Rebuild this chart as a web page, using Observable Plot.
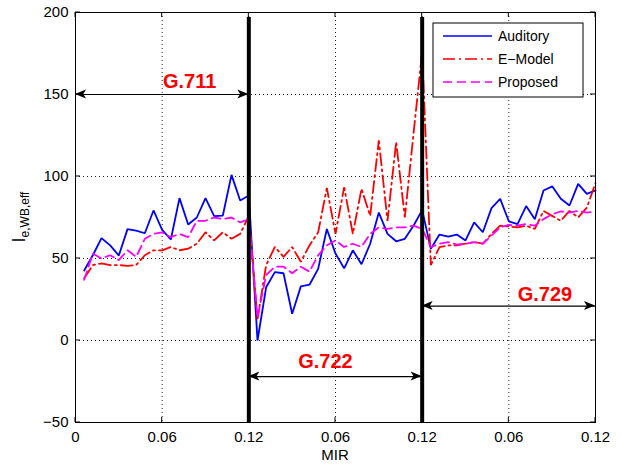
<!DOCTYPE html>
<html>
<head>
<meta charset="utf-8">
<script src="https://cdn.jsdelivr.net/npm/d3@7"></script>
<script src="https://cdn.jsdelivr.net/npm/@observablehq/plot@0.6"></script>
<style>
  html, body { margin: 0; padding: 0; background: #fff; }
</style>
</head>
<body>
<div id="chart"></div>
<script>
// MIR values sampled within each codec block
const mir = [0.006, 0.012, 0.018, 0.024, 0.030, 0.036, 0.042, 0.048, 0.054, 0.060,
             0.066, 0.072, 0.078, 0.084, 0.090, 0.096, 0.102, 0.108, 0.114, 0.120];
const codecs = ["G.711", "G.722", "G.729"];

// Auditory model
const auditory711 = [42.7, 52, 62.4, 58, 51.8, 67.9, 67, 65.4, 79.3, 67.5, 61.6, 86.8, 70.7, 75, 86.8, 75.8, 76.2, 101, 85.4, 88.4];
const auditory722 = [0, 32.5, 41.7, 41, 16.3, 33, 34, 43.7, 68, 53, 44, 55, 46.5, 59, 78, 65, 60.5, 62, 70, 79.5];
const auditory729 = [56, 64.6, 63.4, 64.6, 61, 72, 66, 80.7, 86.4, 72.7, 71, 82, 74, 91.5, 94, 86.4, 82.3, 95.5, 89.4, 91.5];

// E-Model
const emodel711 = [38, 46, 47, 46, 46, 45.5, 46, 52, 55, 55, 57, 55, 56, 59, 66, 61, 66, 62, 65, 76];
const emodel722 = [13, 46, 57, 51, 57, 48, 58, 66, 93, 65, 93.5, 65, 92.5, 76, 122, 73, 121, 75, 126, 176];
const emodel729 = [46, 57, 58, 58, 59, 60, 59, 65, 70, 69.5, 69, 70, 68, 79, 76, 73, 79, 75, 81, 96];

// Proposed model
const proposed711 = [37, 53, 50, 52, 49, 55, 51, 62, 65, 66, 63, 65, 63, 73, 73, 75, 74, 75, 72, 74];
const proposed722 = [14, 40, 45, 45, 41, 45, 42, 52, 58, 61, 57, 59, 57, 65, 69, 68, 69, 69, 70, 68];
const proposed729 = [57, 59, 60, 58.5, 59, 60, 59, 64, 69, 70.5, 70, 71, 70, 74, 77, 78.7, 78, 79, 78, 78.5];

// Axis ticks: the x axis repeats the MIR range once per codec block
const xTicks = [0, 0.06, 0.12, 0.18, 0.24, 0.30, 0.36];
const xTickLabels = ["0", "0.06", "0.12", "0.06", "0.12", "0.06", "0.12"];
const yTicks = [-50, 0, 50, 100, 150, 200];
const blockWidth = 0.12;

// Build one continuous row list per model across the three codec blocks
function rows(name, blocks) {
  const out = [];
  blocks.forEach((vals, b) => vals.forEach((v, i) => out.push({model: name, codec: codecs[b], pos: b * blockWidth + mir[i], value: v})));
  return out;
}
const series = [
  {name: "Auditory", color: "#0000ff", dash: null, data: rows("Auditory", [auditory711, auditory722, auditory729])},
  {name: "E\u2212Model", color: "#ff0000", dash: "12,4,2,4", data: rows("E-Model", [emodel711, emodel722, emodel729])},
  {name: "Proposed", color: "#ff00ff", dash: "9,5", data: rows("Proposed", [proposed711, proposed722, proposed729])}
];

// Codec spans with their double-headed arrows and labels
const spans = [
  {codec: "G.711", x1: 0.00, x2: 0.12, y: 150, lx: 0.079, ly: 158},
  {codec: "G.722", x1: 0.12, x2: 0.24, y: -22, lx: 0.173, ly: -13},
  {codec: "G.729", x1: 0.24, x2: 0.36, y: 21, lx: 0.325, ly: 28}
];
const boundaries = [0.12, 0.24];

const W = 622, H = 464;
const margin = {top: 12, right: 27, bottom: 42, left: 75};
const font = "'Liberation Sans', Arial, Helvetica, sans-serif";

const plot = Plot.plot({
  width: W,
  height: H,
  marginTop: margin.top,
  marginRight: margin.right,
  marginBottom: margin.bottom,
  marginLeft: margin.left,
  style: {background: "#fff", color: "#000", fontFamily: font, fontSize: "15px", overflow: "visible"},
  x: {domain: [0, 0.36], ticks: xTicks, tickFormat: d => xTickLabels[xTicks.findIndex(t => Math.abs(t - d) < 1e-9)], tickSize: 0, tickPadding: 9, label: null},
  y: {domain: [-50, 200], ticks: yTicks, tickSize: 0, tickPadding: 7, label: null},
  marks: [
    // dotted grid
    Plot.ruleY(yTicks.filter(v => v > -50 && v < 200), {stroke: "#222", strokeWidth: 1, strokeDasharray: "1,3"}),
    Plot.ruleX(xTicks.filter(v => v > 0 && v < 0.36), {stroke: "#222", strokeWidth: 1, strokeDasharray: "1,3"}),
    // model curves
    ...series.map(s => Plot.line(s.data, {x: "pos", y: "value", stroke: s.color, strokeWidth: 1.8, strokeDasharray: s.dash, strokeLinejoin: "miter"})),
    // codec block separators
    Plot.ruleX(boundaries, {y1: -50, y2: 197, stroke: "#000", strokeWidth: 4}),
    // arrow shafts
    Plot.ruleY(spans, {y: "y", x1: "x1", x2: "x2", stroke: "#000", strokeWidth: 1.2}),
    // codec labels
    Plot.text(spans, {x: "lx", y: "ly", text: "codec", fill: "#ff0000", fontWeight: "bold", fontSize: 20, fontFamily: font}),
    Plot.frame({stroke: "#000", strokeWidth: 1})
  ]
});

document.getElementById("chart").appendChild(plot);

// Pixel helpers from the plot's own scales
const xd = plot.scale("x"), yd = plot.scale("y");
const X = d3.scaleLinear(xd.domain, xd.range);
const Y = d3.scaleLinear(yd.domain, yd.range);
const svg = d3.select(plot);
const x0 = X(0), x1 = X(0.36), yBot = Y(-50), yTop = Y(200);

// inward tick marks on all four sides
const tk = svg.append("g").attr("stroke", "#000").attr("stroke-width", 1);
xTicks.forEach(t => {
  tk.append("line").attr("x1", X(t)).attr("x2", X(t)).attr("y1", yBot).attr("y2", yBot - 5);
  tk.append("line").attr("x1", X(t)).attr("x2", X(t)).attr("y1", yTop).attr("y2", yTop + 5);
});
yTicks.forEach(v => {
  tk.append("line").attr("x1", x0).attr("x2", x0 + 5).attr("y1", Y(v)).attr("y2", Y(v));
  tk.append("line").attr("x1", x1).attr("x2", x1 - 5).attr("y1", Y(v)).attr("y2", Y(v));
});

// arrowheads at both ends of every span
const heads = svg.append("g").attr("fill", "#000");
function head(tx, ty, dir) {
  const L = 11, Wd = 4.5;
  heads.append("path").attr("d",
    `M${tx},${ty} L${tx - dir * L},${ty - Wd} L${tx - dir * L * 0.75},${ty} L${tx - dir * L},${ty + Wd} Z`);
}
spans.forEach(s => { head(X(s.x1), Y(s.y), -1); head(X(s.x2), Y(s.y), 1); });

// axis titles
svg.append("text")
  .attr("x", (x0 + x1) / 2).attr("y", H - 4)
  .attr("text-anchor", "middle").attr("font-family", font).attr("font-size", 15)
  .text("MIR");
const yl = svg.append("text")
  .attr("transform", `translate(25,${(yTop + yBot) / 2}) rotate(-90)`)
  .attr("text-anchor", "middle").attr("font-family", font);
yl.append("tspan").attr("font-size", 18).text("I");
yl.append("tspan").attr("font-size", 12).attr("dy", 4).text("e,WB,eff");

// legend
const lg = svg.append("g").attr("transform", "translate(433,23)");
lg.append("rect").attr("width", 150).attr("height", 74).attr("fill", "#fff").attr("stroke", "#000").attr("stroke-width", 1);
series.forEach((s, i) => {
  const ly = 13 + i * 23;
  lg.append("line").attr("x1", 10).attr("x2", 59).attr("y1", ly).attr("y2", ly)
    .attr("stroke", s.color).attr("stroke-width", 1.5).attr("stroke-dasharray", s.dash);
  lg.append("text").attr("x", 65).attr("y", ly).attr("dy", "0.35em")
    .attr("text-anchor", "start")
    .attr("font-family", font).attr("font-size", 14).text(s.name);
});
</script>
</body>
</html>
